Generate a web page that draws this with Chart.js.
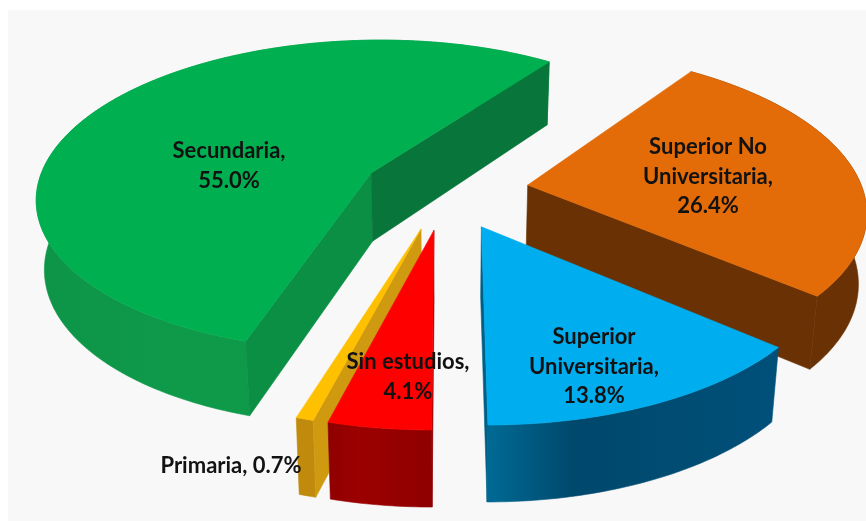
<!DOCTYPE html>
<html>
<head>
<meta charset="utf-8">
<style>
  html, body { margin: 0; padding: 0; background: #fff; }
  #wrap { width: 866px; height: 521px; }
  #pie3d { display: block; filter: blur(0.6px); }
</style>
<script src="https://cdn.jsdelivr.net/npm/chart.js@4"></script>
</head>
<body>
<div id="wrap"><canvas id="pie3d" width="866" height="521"></canvas></div>
<script>
// Order runs clockwise from 6 o'clock, as in the original spreadsheet pie
const categories = ["Sin estudios", "Primaria", "Secundaria", "Superior No Universitaria", "Superior Universitaria"];
const shares = [4.1, 0.7, 55.0, 26.4, 13.8];

const topColors = ["#ff0000", "#ffc000", "#00b050", "#e36c09", "#00aeef"];
const rimColors = [["#8f0000", "#9c0000", "#8f0000"], ["#c08a0c", "#c08a0c", "#c08a0c"], ["#0d9448", "#0f9a4a", "#0d9448"], ["#6a3204", "#6a3204", "#6a3204"], ["#006a94", "#00486c", "#00507a"]];
const startFaceColors = ["#8f0000", "#d09a10", "#0a8f45", "#6a3204", "#005f86"];
const endFaceColors = ["#8f0000", "#c08a0c", "#08763a", "#6a3204", "#005f86"];

// Text of each label and where it sits on the page
const labelLines = [["Sin estudios,", "4.1%"], ["Primaria, 0.7%"], ["Secundaria,", "55.0%"], ["Superior No", "Universitaria,", "26.4%"], ["Superior", "Universitaria,", "13.8%"]];
const labelCenters = [[408, 362], [231, 466], [229, 151], [708, 147], [594, 337]];
const drawOrder = [2, 3, 1, 0, 4]; // back to front

const view = { cx: 445, cy: 190, f: 335, g: 157, k: 0.147, explode: 0.25 };

function project(X, Y) {
  const s = 1 / (1 - view.k * Y);
  return { x: view.cx + view.f * X * s, y: view.cy + view.g * Y * s };
}

function lower(X, Y) {
  const p = project(X, Y);
  return { x: view.cx + (p.x - view.cx) * 0.98, y: p.y + 69 + 6.5 * Y };
}

function tracePath(ctx, pts, fill) {
  ctx.beginPath();
  pts.forEach((p, i) => (i ? ctx.lineTo(p.x, p.y) : ctx.moveTo(p.x, p.y)));
  ctx.closePath();
  ctx.fillStyle = fill;
  ctx.fill();
  ctx.strokeStyle = fill;
  ctx.lineWidth = 0.6;
  ctx.stroke();
}

function drawSlice(ctx, arc, i) {
  const mid = (arc.startAngle + arc.endAngle) / 2;
  const ox = Math.cos(mid) * view.explode;
  const oy = Math.sin(mid) * view.explode;

  const rim = [];
  const n = Math.max(4, Math.ceil((arc.endAngle - arc.startAngle) / 0.015));
  for (let j = 0; j <= n; j++) {
    const a = arc.startAngle + (arc.endAngle - arc.startAngle) * j / n;
    rim.push([ox + Math.cos(a), oy + Math.sin(a)]);
  }
  const first = rim[0];
  const last = rim[rim.length - 1];

  // outer wall
  const upper = rim.map((p) => project(p[0], p[1]));
  const under = rim.map((p) => lower(p[0], p[1])).reverse();
  const xs = upper.map((p) => p.x);
  const grad = ctx.createLinearGradient(Math.min(...xs), 0, Math.max(...xs), 0);
  grad.addColorStop(0, rimColors[i][0]);
  grad.addColorStop(0.3, rimColors[i][1]);
  grad.addColorStop(1, rimColors[i][2]);
  tracePath(ctx, upper.concat(under), grad);

  // cut faces, only the ones turned towards the viewer
  if (-Math.cos(arc.startAngle) > -0.02) {
    tracePath(ctx, [project(ox, oy), project(first[0], first[1]), lower(first[0], first[1]), lower(ox, oy)], startFaceColors[i]);
  }
  if (Math.cos(arc.endAngle) > -0.02) {
    tracePath(ctx, [project(ox, oy), project(last[0], last[1]), lower(last[0], last[1]), lower(ox, oy)], endFaceColors[i]);
  }

  // top
  tracePath(ctx, [project(ox, oy)].concat(upper), topColors[i]);
}

const pie3dPlugin = {
  id: "pie3d",
  beforeDatasetsDraw(chart) {
    const ctx = chart.ctx;
    const arcs = chart.getDatasetMeta(0).data;
    ctx.save();
    ctx.fillStyle = "#f8f8f8";
    ctx.fillRect(8, 10, 858, 511);
    drawOrder.forEach((i) => drawSlice(ctx, arcs[i], i));

    ctx.fillStyle = "#121212";
    ctx.font = 'bold 22px Lato, "Open Sans", sans-serif';
    ctx.textAlign = "center";
    ctx.textBaseline = "middle";
    labelLines.forEach((lines, i) => {
      lines.forEach((line, j) => {
        ctx.fillText(line, labelCenters[i][0], labelCenters[i][1] + j * 29.5);
      });
    });
    ctx.restore();
    return false; // the flat pie is replaced by the projected one
  },
};

new Chart(document.getElementById("pie3d"), {
  type: "pie",
  data: {
    labels: categories,
    datasets: [{ data: shares, backgroundColor: topColors, borderWidth: 0 }],
  },
  options: {
    responsive: false,
    animation: false,
    rotation: 180,
    events: [],
    plugins: { legend: { display: false }, tooltip: { enabled: false } },
  },
  plugins: [pie3dPlugin],
});
</script>
</body>
</html>
